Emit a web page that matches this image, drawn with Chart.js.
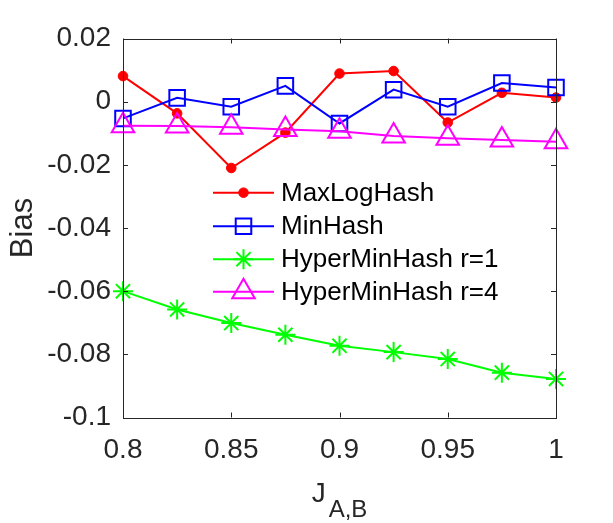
<!DOCTYPE html>
<html><head><meta charset="utf-8">
<script src="https://cdn.jsdelivr.net/npm/chart.js@4/dist/chart.umd.min.js"></script>
<style>html,body{margin:0;padding:0;background:#fff;}#wrap{width:613px;height:523px;}</style>
</head><body><div id="wrap"><canvas id="c" width="613" height="523"></canvas></div>
<script>
const jValues = [0.8, 0.825, 0.85, 0.875, 0.9, 0.925, 0.95, 0.975, 1.0];
const maxLogHash = [0.0081, -0.0037, -0.0210, -0.0098, 0.0089, 0.0097, -0.0066, 0.0028, 0.0013];
const minHash = [-0.0053, 0.0012, -0.0016, 0.0050, -0.0069, 0.0038, -0.0016, 0.0059, 0.0045];
const hyperR1 = [-0.0600, -0.0658, -0.0701, -0.0738, -0.0773, -0.0793, -0.0815, -0.0858, -0.0878];
const hyperR4 = [-0.0076, -0.0077, -0.0081, -0.0088, -0.0094, -0.0109, -0.0116, -0.0121, -0.0127];
const seriesNames = ['MaxLogHash', 'MinHash', 'HyperMinHash r=1', 'HyperMinHash r=4'];
const xTickValues = [0.8, 0.85, 0.9, 0.95, 1];
const xTickLabels = ['0.8', '0.85', '0.9', '0.95', '1'];
const yTickValues = [-0.1, -0.08, -0.06, -0.04, -0.02, 0, 0.02];
const yTickLabels = ['-0.1', '-0.08', '-0.06', '-0.04', '-0.02', '0', '0.02'];
const yTitle = 'Bias';
const xTitleMain = 'J';
const xTitleSub = 'A,B';

const FONT = '"Liberation Sans", Arial, sans-serif';
const AXIS_COLOR = '#262626';

function pts(arr) { return jValues.map((x, i) => ({ x: x, y: arr[i] })); }

const styles = [
  { color: '#ff0000', pointStyle: 'circle', radius: 4.8, bw: 1, fill: '#ff0000', order: 4 },
  { color: '#0000ff', pointStyle: 'rect', radius: 11, bw: 2, fill: 'rgba(0,0,0,0)', order: 3 },
  { color: '#00ff00', pointStyle: 'star', radius: 10, bw: 2, fill: 'rgba(0,0,0,0)', order: 2 },
  { color: '#ff00ff', pointStyle: 'triangle', radius: 13, bw: 2, fill: 'rgba(0,0,0,0)', order: 1 }
];
const seriesData = [maxLogHash, minHash, hyperR1, hyperR4];

const datasets = seriesData.map((arr, i) => ({
  label: seriesNames[i],
  data: pts(arr),
  borderColor: styles[i].color,
  backgroundColor: styles[i].fill,
  borderWidth: 2,
  pointStyle: styles[i].pointStyle,
  pointRadius: styles[i].radius,
  pointBorderWidth: styles[i].bw,
  pointBorderColor: styles[i].color,
  pointBackgroundColor: styles[i].fill,
  tension: 0,
  clip: false,
  order: styles[i].order
}));

function drawMarker(ctx, style, x, y) {
  const r = style.radius;
  ctx.save();
  ctx.strokeStyle = style.color;
  ctx.fillStyle = style.fill;
  ctx.lineWidth = style.bw;
  ctx.beginPath();
  if (style.pointStyle === 'circle') {
    ctx.arc(x, y, r, 0, Math.PI * 2);
    ctx.fill(); ctx.stroke();
  } else if (style.pointStyle === 'rect') {
    const s = r * Math.SQRT1_2;
    ctx.rect(x - s, y - s, 2 * s, 2 * s);
    ctx.stroke();
  } else if (style.pointStyle === 'triangle') {
    let a = 0;
    ctx.moveTo(x + Math.sin(a) * r, y - Math.cos(a) * r);
    a += 2 * Math.PI / 3;
    ctx.lineTo(x + Math.sin(a) * r, y - Math.cos(a) * r);
    a += 2 * Math.PI / 3;
    ctx.lineTo(x + Math.sin(a) * r, y - Math.cos(a) * r);
    ctx.closePath();
    ctx.stroke();
  } else if (style.pointStyle === 'star') {
    for (let k = 0; k < 4; k++) {
      const a = k * Math.PI / 4;
      ctx.moveTo(x + Math.cos(a) * r, y + Math.sin(a) * r);
      ctx.lineTo(x - Math.cos(a) * r, y - Math.sin(a) * r);
    }
    ctx.stroke();
  }
  ctx.restore();
}

const decorPlugin = {
  id: 'decor',
  afterDraw(chart) {
    const ctx = chart.ctx;
    const a = chart.chartArea;
    const xs = chart.scales.x, ys = chart.scales.y;
    ctx.save();
    ctx.strokeStyle = AXIS_COLOR;
    ctx.lineWidth = 1;
    ctx.strokeRect(Math.round(a.left) + 0.5, Math.round(a.top) + 0.5,
      Math.round(a.right - a.left), Math.round(a.bottom - a.top));
    const tl = 5;
    ctx.beginPath();
    xTickValues.forEach(v => {
      const px = Math.round(xs.getPixelForValue(v)) + 0.5;
      ctx.moveTo(px, a.bottom); ctx.lineTo(px, a.bottom - tl);
      ctx.moveTo(px, a.top); ctx.lineTo(px, a.top + tl);
    });
    yTickValues.forEach(v => {
      const py = Math.round(ys.getPixelForValue(v)) + 0.5;
      ctx.moveTo(a.left, py); ctx.lineTo(a.left + tl, py);
      ctx.moveTo(a.right, py); ctx.lineTo(a.right - tl, py);
    });
    ctx.stroke();
    ctx.fillStyle = AXIS_COLOR;
    ctx.font = '31px ' + FONT;
    ctx.textAlign = 'center';
    ctx.textBaseline = 'middle';
    ctx.save();
    ctx.translate(23, (a.top + a.bottom) / 2);
    ctx.rotate(-Math.PI / 2);
    ctx.fillText(yTitle, 0, 0);
    ctx.restore();
    ctx.textAlign = 'left';
    ctx.textBaseline = 'alphabetic';
    ctx.font = '28px ' + FONT;
    const wJ = ctx.measureText(xTitleMain).width;
    ctx.font = '24px ' + FONT;
    const wS = ctx.measureText(xTitleSub).width;
    const cx = (a.left + a.right) / 2;
    const x0 = cx - (wJ + 3 + wS) / 2;
    ctx.font = '28px ' + FONT;
    ctx.fillText(xTitleMain, x0, 502);
    ctx.font = '24px ' + FONT;
    ctx.fillText(xTitleSub, x0 + wJ + 3, 517);
    const rowsY = [192.7, 226.2, 259.2, 291.7];
    ctx.font = '26px ' + FONT;
    ctx.textBaseline = 'middle';
    rowsY.forEach((ry, i) => {
      const st = styles[i];
      ctx.strokeStyle = st.color;
      ctx.lineWidth = 2;
      ctx.beginPath();
      ctx.moveTo(213, ry); ctx.lineTo(274, ry);
      ctx.stroke();
      drawMarker(ctx, st, 243.5, ry);
      ctx.fillStyle = '#000000';
      ctx.fillText(seriesNames[i], 281, ry + 1);
    });
    ctx.restore();
  }
};

new Chart(document.getElementById('c'), {
  type: 'line',
  data: { datasets: datasets },
  options: {
    responsive: false,
    animation: false,
    devicePixelRatio: 1,
    layout: { padding: { left: 0, right: 57, top: 38.5, bottom: 0 } },
    plugins: { legend: { display: false }, tooltip: { enabled: false }, title: { display: false } },
    scales: {
      x: {
        type: 'linear', min: 0.8, max: 1,
        afterBuildTicks: s => { s.ticks = xTickValues.map(v => ({ value: v })); },
        afterFit: s => { s.height = 105.5; },
        grid: { display: false, drawTicks: false },
        border: { display: false },
        ticks: {
          padding: 16, color: AXIS_COLOR, font: { family: FONT, size: 28 },
          maxRotation: 0, autoSkip: false,
          callback: (v, i) => xTickLabels[i]
        }
      },
      y: {
        type: 'linear', min: -0.1, max: 0.02,
        afterBuildTicks: s => { s.ticks = yTickValues.map(v => ({ value: v })); },
        afterFit: s => { s.width = 123; },
        grid: { display: false, drawTicks: false },
        border: { display: false },
        ticks: {
          padding: 12, color: AXIS_COLOR, font: { family: FONT, size: 28 },
          autoSkip: false,
          callback: (v, i) => yTickLabels[i]
        }
      }
    }
  },
  plugins: [decorPlugin]
});
</script>
</body></html>
